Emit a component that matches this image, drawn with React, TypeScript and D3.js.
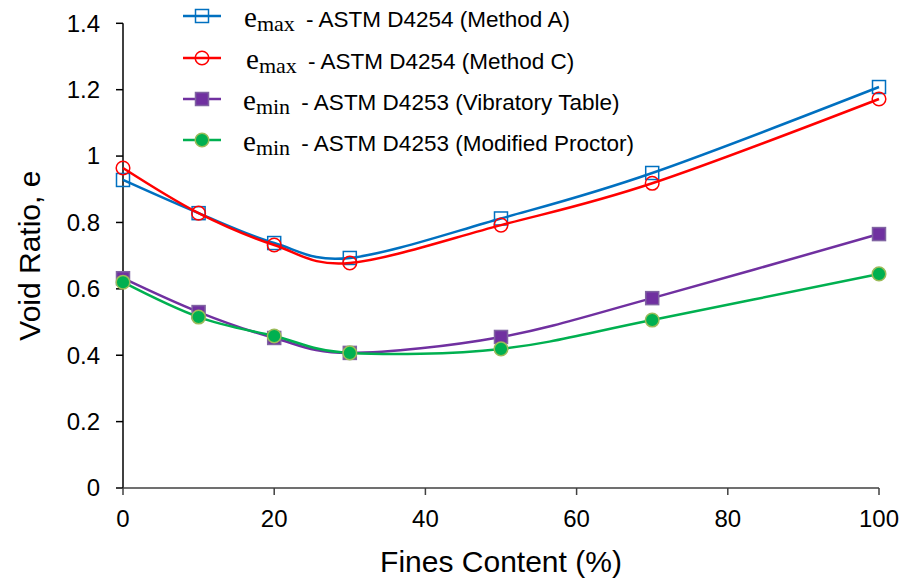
import React from "react";
import * as d3 from "d3";

const finesContent = [0, 10, 20, 30, 50, 70, 100];
const emaxMethodA = [0.928, 0.828, 0.738, 0.693, 0.812, 0.949, 1.208];
const emaxMethodC = [0.964, 0.828, 0.732, 0.678, 0.792, 0.918, 1.172];
const eminVibratory = [0.632, 0.530, 0.452, 0.407, 0.455, 0.572, 0.765];
const eminProctor = [0.620, 0.515, 0.458, 0.407, 0.419, 0.506, 0.645];
const xTicks = [0, 20, 40, 60, 80, 100];
const yTicks = [0, 0.2, 0.4, 0.6, 0.8, 1, 1.2, 1.4];

const W = 913, H = 580;
const L = 123, R = 879, T = 23.3, B = 488;

const series = [
  { sub: "max", label: " - ASTM D4254 (Method A)", values: emaxMethodA, color: "#0070C0", marker: "square", fill: "none", stroke: "#0070C0" },
  { sub: "max", label: " - ASTM D4254 (Method C)", values: emaxMethodC, color: "#FF0000", marker: "circle", fill: "none", stroke: "#FF0000" },
  { sub: "min", label: " - ASTM D4253 (Vibratory Table)", values: eminVibratory, color: "#7030A0", marker: "square", fill: "#7030A0", stroke: "#8064A2" },
  { sub: "min", label: " - ASTM D4253 (Modified Proctor)", values: eminProctor, color: "#00B050", marker: "circle", fill: "#00B050", stroke: "#9BBB59" },
];

function Marker({ type, x, y, fill, stroke }: any) {
  if (type === "square") {
    return <rect x={x - 6.5} y={y - 6.5} width={13} height={13} fill={fill} stroke={stroke} strokeWidth={1.5} />;
  }
  return <circle cx={x} cy={y} r={6.8} fill={fill} stroke={stroke} strokeWidth={1.5} />;
}

export default function App() {
  const x = d3.scaleLinear().domain([0, 100]).range([L, R]);
  const y = d3.scaleLinear().domain([0, 1.4]).range([B, T]);
  const line = d3
    .line<[number, number]>()
    .x((d) => x(d[0]))
    .y((d) => y(d[1]))
    .curve(d3.curveCardinal.tension(0));

  const legendX0 = 183, legendX1 = 221;
  const legendBase = [27, 69, 110, 151];
  const textX = [244, 246, 243, 243];

  return (
    <svg width={W} height={H} style={{ position: "absolute", left: 0, top: 0, background: "#fff" }}
      fontFamily="'Liberation Sans', Arial, sans-serif">
      <rect width={W} height={H} fill="#fff" />
      {/* Y axis */}
      <line x1={L} x2={L} y1={T} y2={B} stroke="#000" strokeWidth={1.5} />
      {yTicks.map((t) => (
        <g key={t}>
          <line x1={L - 7} x2={L} y1={y(t)} y2={y(t)} stroke="#000" strokeWidth={1.5} />
          <text x={100} y={y(t)} dy="0.35em" textAnchor="end" fontSize={24} fill="#000">
            {d3.format("~g")(t)}
          </text>
        </g>
      ))}
      {/* X axis */}
      <line x1={L} x2={R} y1={B} y2={B} stroke="#404040" strokeWidth={1.5} />
      {xTicks.map((t) => (
        <g key={t}>
          <line x1={x(t)} x2={x(t)} y1={B} y2={B + 7} stroke="#404040" strokeWidth={1.5} />
          <text x={x(t)} y={527} textAnchor="middle" fontSize={24} fill="#000">
            {t}
          </text>
        </g>
      ))}
      <text x={(L + R) / 2} y={572} textAnchor="middle" fontSize={30} fill="#000">
        Fines Content (%)
      </text>
      <text transform={`translate(40, ${(T + B) / 2}) rotate(-90)`} textAnchor="middle" fontSize={30} fill="#000">
        Void Ratio, e
      </text>
      {/* Series */}
      {series.map((s, i) => {
        const pts = finesContent.map((f, j) => [f, s.values[j]] as [number, number]);
        return (
          <g key={i}>
            <path d={line(pts) || ""} fill="none" stroke={s.color} strokeWidth={2.5} />
            {pts.map((p, j) => (
              <Marker key={j} type={s.marker} x={x(p[0])} y={y(p[1])} fill={s.fill} stroke={s.stroke} />
            ))}
          </g>
        );
      })}
      {/* Legend */}
      {series.map((s, i) => {
        const ly = legendBase[i] - 11;
        return (
          <g key={"lg" + i}>
            <line x1={legendX0} x2={legendX1} y1={ly} y2={ly} stroke={s.color} strokeWidth={2.5} />
            <Marker type={s.marker} x={(legendX0 + legendX1) / 2} y={ly} fill={s.fill} stroke={s.stroke} />
            <text x={textX[i]} y={legendBase[i]} fill="#000">
              <tspan fontFamily="'Liberation Serif', 'Times New Roman', serif" fontSize={29}>e</tspan>
              <tspan fontFamily="'Liberation Serif', 'Times New Roman', serif" fontSize={22} dy={4}>{s.sub}</tspan>
              <tspan fontSize={22.5} dy={-4} dx={5}>{s.label}</tspan>
            </text>
          </g>
        );
      })}
    </svg>
  );
}
